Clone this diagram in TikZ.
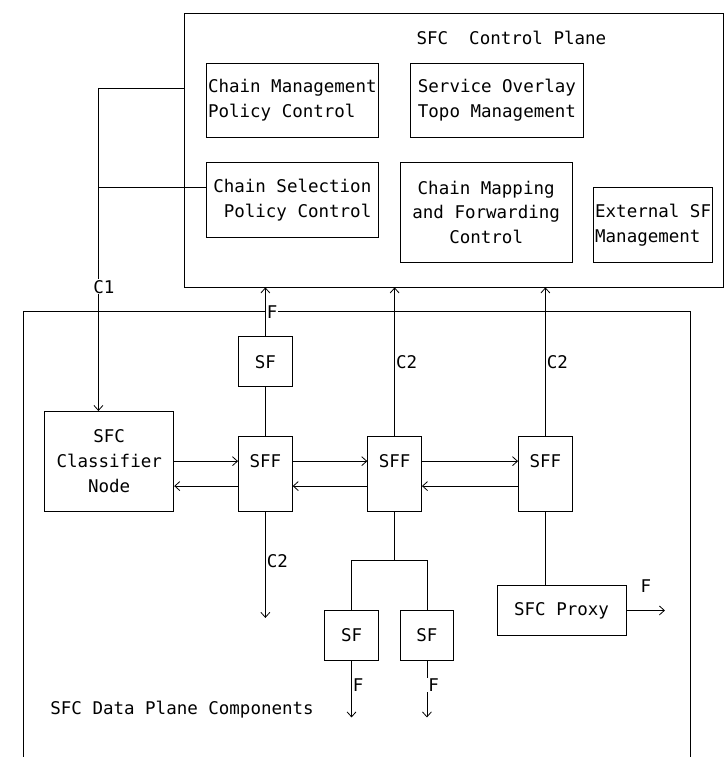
\documentclass[tikz,border=0pt]{standalone}
\usepackage{fontspec}
\usepackage{tikz}
\usetikzlibrary{arrows.meta, positioning}
\newfontfamily\fonteascii{DejaVu Sans Mono}
\newlength{\altlinha}
\setlength{\altlinha}{24.88pt}

\begin{document}
\begin{tikzpicture}[x=10.77pt, y=-24.88pt, line width=0.8pt,
  font=\fonteascii\fontsize{17.5}{24.88}\selectfont,
  caixa/.style 2 args={draw, inner sep=0pt, minimum width=#1*10.77pt, minimum height=#2*24.88pt},
  seta/.style={-{Straight Barb[length=5pt,width=9pt]}},
  rotulo/.style={fill=white, inner sep=1pt}]
% --- PLANOS DE CONTROLE E DE DADOS, EM GRADE DE CARACTERES ---
\useasboundingbox (-0.139,-0.535) rectangle (67.36,29.89);

% CAMADA 1: Plano de controle
\node[caixa={50}{11}] (cp) at (42,5.5) {};
\node[anchor=west, inner sep=0pt] (cptit) at (38.5,1) {SFC\ \ Control Plane};
\node[caixa={16}{3}, align=left] (cmgmt) at (27,3.5) {Chain Management\\Policy Control};
\node[caixa={16}{3}, align=left] (ovly) at (46,3.5) {Service Overlay\\Topo Management};
\node[caixa={16}{3}, align=right] (csel) at (27,7.5) {Chain Selection\\Policy Control};
\node[caixa={16}{4}, align=center] (cmap) at (45,8) {Chain Mapping\\and Forwarding\\Control};
\node[caixa={11}{3}, align=left] (extsf) at (60.5,8.5) {External SF\\Management};

% CAMADA 2: Plano de dados
\node[caixa={62}{19}] (dp) at (33,21.5) {};
\node[anchor=west, inner sep=0pt] (dptit) at (4.5,28) {SFC Data Plane Components};
\node[caixa={12}{4}, align=center] (clsf) at (10,18) {SFC\\Classifier\\Node};
\node[caixa={5}{2}] (sf1) at (24.5,14) {SF};
\node[caixa={5}{3}, align=left] (sff1) at (24.5,18.5) {SFF\\\mbox{}};
\node[caixa={5}{3}, align=left] (sff2) at (36.5,18.5) {SFF\\\mbox{}};
\node[caixa={5}{3}, align=left] (sff3) at (50.5,18.5) {SFF\\\mbox{}};
\node[caixa={5}{2}] (sfa) at (32.5,25) {SF};
\node[caixa={5}{2}] (sfb) at (39.5,25) {SF};
\node[caixa={12}{2}] (proxy) at (52,24) {SFC Proxy};

% CAMADA 3: Interface C1
\coordinate (c1a) at (9,3);
\coordinate (c1b) at (9,7);
\draw (c1a) -- (c1a -| cp.west);
\draw (c1b) -- (c1b -| csel.west);
\draw[seta] (c1a) -- node[rotulo, pos=0.615, xshift=5.4pt] {C1} (c1a |- clsf.north);

% CAMADA 4: Ligacoes ao plano de controle
\draw[seta] (sf1.north) -- node[midway, right, rotulo] {F} (sf1.north |- cp.south);
\draw[seta] (sff2.north) -- node[midway, right, rotulo] {C2} (sff2.north |- cp.south);
\draw[seta] (sff3.north) -- node[midway, right, rotulo] {C2} (sff3.north |- cp.south);

% CAMADA 5: Trafego entre classificador e SFFs
\draw[seta] (clsf.east) -- ([yshift=.5\altlinha]sff1.west);
\draw[seta] ([yshift=-.5\altlinha]sff1.west) -- ([yshift=-\altlinha]clsf.east);
\foreach \a/\b in {sff1/sff2, sff2/sff3} {
  \draw[seta] ([yshift=.5\altlinha]\a.east) -- ([yshift=.5\altlinha]\b.west);
  \draw[seta] ([yshift=-.5\altlinha]\b.west) -- ([yshift=-.5\altlinha]\a.east);
}

% CAMADA 6: SFs, bifurcacao e proxy
\draw (sf1.south) -- (sff1.north);
\coordinate (c2fim) at (24.5,24.3);
\draw[seta] (sff1.south) -- node[right, rotulo, pos=0.465] {C2} (c2fim);
\coordinate (bif) at (36.5,22);
\draw (sff2.south) -- (bif);
\draw (sfa.north) |- (bif) -| (sfb.north);
\coordinate (sfafim) at (32.5,28.3);
\coordinate (sfbfim) at (39.5,28.3);
\draw[seta] (sfa.south) -- node[right, rotulo, pos=0.43] {F} (sfafim);
\draw[seta] (sfb.south) -- node[right, rotulo, pos=0.43] {F} (sfbfim);
\draw (sff3.south) -- (sff3.south |- proxy.north);
\coordinate (pxfim) at (61.6,24);
\draw[seta] (proxy.east) -- node[midway, above=17pt, inner sep=1pt] {F} (pxfim);
\end{tikzpicture}
\end{document}
